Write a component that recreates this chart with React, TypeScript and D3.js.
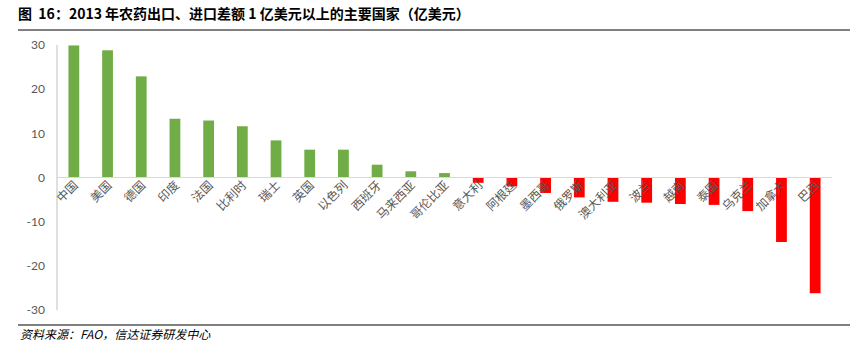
import React from "react";
import * as d3 from "d3";

const categories = ["中国", "美国", "德国", "印度", "法国", "比利时", "瑞士", "英国", "以色列", "西班牙", "马来西亚", "哥伦比亚", "意大利", "阿根廷", "墨西哥", "俄罗斯", "澳大利亚", "波兰", "越南", "泰国", "乌克兰", "加拿大", "巴西"];
const values = [29.9, 28.8, 22.9, 13.3, 12.9, 11.6, 8.4, 6.3, 6.3, 2.9, 1.4, 1.0, -1.2, -2.0, -3.5, -4.5, -5.5, -5.7, -6.0, -6.2, -7.6, -14.6, -26.2];
const yTicks = [30, 20, 10, 0, -10, -20, -30];
const title = "图  16：2013 年农药出口、进口差额 1 亿美元以上的主要国家（亿美元）";
const source = "资料来源：FAO，信达证券研发中心";

export default function App() {
  const W = 863, H = 351;
  const x0 = 57, x1 = 832;
  const x = d3.scaleBand<string>().domain(categories).range([x0, x1]).paddingInner(0.68).paddingOuter(0.34);
  const y = d3.scaleLinear().domain([-30, 30]).range([310, 45]);
  const font = "'Noto Sans CJK SC', 'Noto Sans', sans-serif";
  return (
    <svg width={W} height={H} style={{ position: "absolute", left: 0, top: 0, background: "#fff" }}>
      <text x={18} y={19} fontFamily={font} fontWeight="bold" fontSize={14} fill="#000" style={{ whiteSpace: "pre" }}>{title}</text>
      <line x1={18} x2={850} y1={30} y2={30} stroke="#000" strokeWidth={1} />
      {yTicks.map((t) => (
        <text key={t} x={45} y={y(t)} dy="0.35em" textAnchor="end" fontFamily="Lato, 'Noto Sans', sans-serif" fontSize={12} fill="#595959">{t}</text>
      ))}
      <line x1={x0} x2={x0} y1={45} y2={310} stroke="#bfbfbf" strokeWidth={1} />
      {categories.map((c, i) => {
        const v = values[i];
        const top = y(Math.max(0, v));
        const h = Math.abs(y(v) - y(0));
        return <rect key={c} x={x(c)} y={top} width={x.bandwidth()} height={h} fill={v >= 0 ? "#70AD47" : "#FF0000"} />;
      })}
      <line x1={x0} x2={x1} y1={y(0)} y2={y(0)} stroke="#d9d9d9" strokeWidth={1} />
      {categories.map((c) => {
        const cx = (x(c) as number) + x.bandwidth() / 2 + 5;
        const cy = 186;
        return (
          <text key={c} x={cx} y={cy} textAnchor="end" transform={`rotate(-45 ${cx} ${cy})`} fontFamily={font} fontSize={12} fill="#595959">{c}</text>
        );
      })}
      <line x1={18} x2={850} y1={325} y2={325} stroke="#000" strokeWidth={1} />
      <text x={20} y={339} fontFamily={font} fontStyle="italic" fontSize={12} fill="#000">{source}</text>
    </svg>
  );
}
